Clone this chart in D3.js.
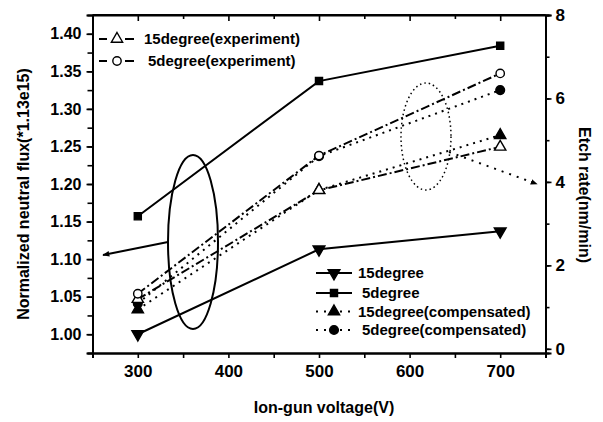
<!DOCTYPE html>
<html><head><meta charset="utf-8">
<script src="https://cdn.jsdelivr.net/npm/d3@7"></script>
<style>
body{margin:0;background:#fff}
text{font-family:"Liberation Sans",Arial,Helvetica,sans-serif;font-weight:bold;fill:#000}
</style>
</head><body><svg id="c" width="603" height="422"></svg>
<script>
// ---- data ----
const voltages   = [300, 500, 700];
const deg15      = [1.000, 1.113, 1.137];   // left axis
const deg5       = [1.157, 1.337, 1.384];   // left axis
const deg15Comp  = [1.033, 1.192, 1.265];   // left axis
const deg5Comp   = [1.041, 1.237, 1.325];   // left axis
const deg15Exp   = [1.19, 3.80, 4.84];      // right axis (etch rate)
const deg5Exp    = [1.32, 4.63, 6.60];      // right axis (etch rate)
const xTickValues     = [300, 400, 500, 600, 700];
const leftTickValues  = [1.00, 1.05, 1.10, 1.15, 1.20, 1.25, 1.30, 1.35, 1.40];
const rightTickValues = [0, 2, 4, 6, 8];

// ---- layout ----
const L = 92.5, R = 545.5, T = 15, B = 353;
const svg = d3.select("#c");
const x  = d3.scaleLinear().domain([250, 750]).range([L, R]);
const yL = d3.scaleLinear().domain([0.975, 1.425]).range([B, T]);
const yR = d3.scaleLinear().domain([-0.1, 8]).range([B, T]);

const fmt2 = d3.format(".2f");
// axes
svg.append("g").attr("transform", `translate(0,${B})`)
  .call(d3.axisBottom(x).tickValues(d3.range(250, 751, 50)).tickSize(5).tickFormat(""));
const axBl = svg.append("g").attr("transform", `translate(0,${B})`)
  .call(d3.axisBottom(x).tickValues(xTickValues).tickSize(0).tickPadding(21).tickFormat(d3.format("d")));
const axT = svg.append("g").attr("transform", `translate(0,${T})`)
  .call(d3.axisBottom(x).tickValues(d3.range(250, 751, 50)).tickSizeInner(4).tickSizeOuter(0).tickFormat(""));
svg.append("g").attr("transform", `translate(${L},0)`)
  .call(d3.axisLeft(yL).tickValues(d3.range(0, 18).map(i => 0.975 + i * 0.025)).tickSize(5).tickFormat(""));
svg.append("g").attr("transform", `translate(${L},0)`)
  .call(d3.axisLeft(yL).tickValues(leftTickValues).tickSize(6).tickPadding(5).tickFormat(fmt2));
svg.append("g").attr("transform", `translate(${R},0)`)
  .call(d3.axisRight(yR).tickValues(d3.range(0, 9)).tickSize(4).tickFormat(""));
const axRl = svg.append("g").attr("transform", `translate(${R},0)`)
  .call(d3.axisRight(yR).tickValues(rightTickValues).tickSize(6).tickPadding(4).tickFormat(d3.format("d")));
svg.selectAll(".domain").attr("stroke", "#000").attr("stroke-width", 2);
svg.selectAll(".tick line").attr("stroke", "#000").attr("stroke-width", 1.6);
svg.selectAll(".tick text").style("font-size", "16px").style("font-family", '"Liberation Sans",Arial,sans-serif').style("font-weight", "bold");
axBl.selectAll(".tick text").style("font-size", "17px").attr("dy", "0.2em");
axRl.selectAll(".tick text").style("font-size", "17px");
axT.selectAll(".tick line").attr("y2", d => d % 100 === 0 ? 6 : 4);
svg.append("line").attr("x1", L).attr("x2", R).attr("y1", T).attr("y2", T).attr("stroke", "#000").attr("stroke-width", 2);

// titles
svg.append("text").attr("x", (L + R) / 2 + 5).attr("y", 413).attr("text-anchor", "middle")
  .style("font-size", "16px").text("Ion-gun voltage(V)");
svg.append("text").attr("transform", "translate(23,194) rotate(-90)").attr("text-anchor", "middle")
  .attr("dy", "0.35em").style("font-size", "16px").text("Normalized neutral flux(*1.13e15)");
svg.append("text").attr("transform", "translate(585,195) rotate(90)").attr("text-anchor", "middle")
  .attr("dy", "0.35em").style("font-size", "16px").text("Etch rate(nm/min)");

// ---- series ----
const DASHDOT = "9,3,2,3";
const DOTTED = "2,5";
const series = [
  {name: "5degree(compensated)",  vals: deg5Comp,  y: yL, dash: DOTTED,  sym: d3.symbolCircle,   size: 60, rot: 0,   fill: "#000"},
  {name: "15degree(compensated)", vals: deg15Comp, y: yL, dash: DOTTED,  sym: d3.symbolTriangle, size: 55, rot: 0,   fill: "#000"},
  {name: "15degree(experiment)",  vals: deg15Exp,  y: yR, dash: DASHDOT, sym: d3.symbolTriangle, size: 55, rot: 0,   fill: "#fff"},
  {name: "5degree(experiment)",   vals: deg5Exp,   y: yR, dash: DASHDOT, sym: d3.symbolCircle,   size: 55, rot: 0,   fill: "#fff"},
  {name: "15degree",              vals: deg15,     y: yL, dash: null,    sym: d3.symbolTriangle, size: 60, rot: 180, fill: "#000"},
  {name: "5degree",               vals: deg5,      y: yL, dash: null,    sym: d3.symbolSquare,   size: 50, rot: 0,   fill: "#000"}
];
series.forEach(s => {
  const pts = voltages.map((v, i) => [v, s.vals[i]]);
  svg.append("path").datum(pts)
    .attr("d", d3.line().x(d => x(d[0])).y(d => s.y(d[1])))
    .attr("fill", "none").attr("stroke", "#000").attr("stroke-width", 2)
    .attr("stroke-dasharray", s.dash);
  svg.selectAll(null).data(pts).enter().append("path")
    .attr("d", d3.symbol(s.sym, s.size)())
    .attr("transform", d => `translate(${x(d[0])},${s.y(d[1])}) rotate(${s.rot})`)
    .attr("fill", s.fill).attr("stroke", "#000").attr("stroke-width", 1.4);
});

// ---- annotations ----
const defs = svg.append("defs");
defs.append("marker").attr("id", "ah").attr("viewBox", "0 0 10 10").attr("refX", 9).attr("refY", 5)
  .attr("markerWidth", 7).attr("markerHeight", 7).attr("orient", "auto-start-reverse").attr("markerUnits", "userSpaceOnUse")
  .append("path").attr("d", "M0,1 L10,5 L0,9 Z").attr("fill", "#000");
svg.append("ellipse").attr("cx", 193).attr("cy", 242).attr("rx", 25).attr("ry", 87)
  .attr("fill", "none").attr("stroke", "#000").attr("stroke-width", 2);
svg.append("line").attr("x1", 168).attr("y1", 242).attr("x2", 103).attr("y2", 255)
  .attr("stroke", "#000").attr("stroke-width", 1.8).attr("marker-end", "url(#ah)");
svg.append("ellipse").attr("cx", 426).attr("cy", 136.5).attr("rx", 25).attr("ry", 53.5)
  .attr("fill", "none").attr("stroke", "#000").attr("stroke-width", 1.5).attr("stroke-dasharray", "1.5,3");
svg.append("line").attr("x1", 449).attr("y1", 152).attr("x2", 537).attr("y2", 184)
  .attr("stroke", "#000").attr("stroke-width", 2).attr("stroke-dasharray", "2,6").attr("marker-end", "url(#ah)");

// ---- legends ----
function legendRow(xs, y, s, label, tx) {
  const seg = (a, b, dash) => svg.append("line").attr("x1", xs + a).attr("x2", xs + b).attr("y1", y).attr("y2", y)
    .attr("stroke", "#000").attr("stroke-width", 2).attr("stroke-dasharray", dash);
  if (s.dash === DASHDOT) { seg(0, 8, null); seg(26, 35, null); }
  else if (s.dash === DOTTED) { seg(0, 12, "2,6"); seg(24, 36, "2,6"); }
  else { seg(0, 36, null); }
  svg.append("path").attr("d", d3.symbol(s.sym, s.size)())
    .attr("transform", `translate(${xs + 18},${y}) rotate(${s.rot})`)
    .attr("fill", s.fill).attr("stroke", "#000").attr("stroke-width", 1.4);
  svg.append("text").attr("x", tx).attr("y", y).attr("dy", "0.35em").style("font-size", "15px").text(label);
}
const byName = n => series.find(s => s.name === n);
legendRow(99, 39, byName("15degree(experiment)"), "15degree(experiment)", 144);
legendRow(99, 61, byName("5degree(experiment)"), "5degree(experiment)", 148);
legendRow(316, 273, byName("15degree"), "15degree", 358);
legendRow(316, 293, byName("5degree"), "5degree", 362);
legendRow(316, 311.5, byName("15degree(compensated)"), "15degree(compensated)", 358);
legendRow(316, 330, byName("5degree(compensated)"), "5degree(compensated)", 362);
</script></body></html>
